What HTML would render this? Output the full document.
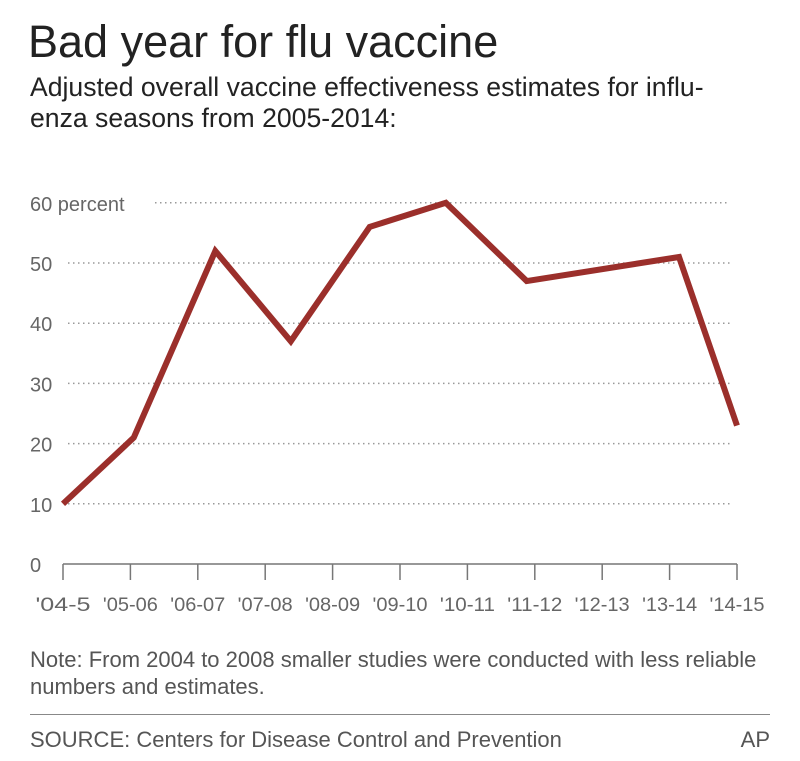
<!DOCTYPE html>
<html><head><meta charset="utf-8"><style>
body{margin:0;background:#fff;width:800px;height:761px;overflow:hidden;font-family:"Liberation Sans",sans-serif;}
.t{position:absolute;left:28px;top:16px;font-size:45px;color:#222;}
.s{position:absolute;left:30px;top:72px;font-size:26.6px;line-height:31px;color:#222;}
.n{position:absolute;left:30px;top:646px;font-size:22px;line-height:27px;color:#555;}
.hr{position:absolute;left:30px;top:714px;width:740px;height:1px;background:#888;}
.src{position:absolute;left:30px;top:727px;font-size:22px;color:#555;}
.ap{position:absolute;right:30px;top:727px;font-size:22px;color:#555;}
svg{position:absolute;left:0;top:0;}
</style></head><body>
<div class="t">Bad year for flu vaccine</div>
<div class="s">Adjusted overall vaccine effectiveness estimates for influ-<br>enza seasons from 2005-2014:</div>
<svg id="c" width="800" height="640"></svg>
<div class="n">Note: From 2004 to 2008 smaller studies were conducted with less reliable<br>numbers and estimates.</div>
<div class="hr"></div>
<div class="src">SOURCE: Centers for Disease Control and Prevention</div>
<div class="ap">AP</div>
<script>
const seasons=["'04-5","'05-06","'06-07","'07-08","'08-09","'09-10","'10-11","'11-12","'12-13","'13-14","'14-15"];
const yTicks=[0,10,20,30,40,50,60];
const pointSeason=[0,1.05,2.26,3.38,4.55,5.68,6.88,9.14,10];
const effectiveness=[10,21,52,37,56,60,47,51,23];
const svg=document.getElementById('c');const NS='http://www.w3.org/2000/svg';
const x=i=>63+i*67.4, y=v=>564-v*6.02;
function mk(t,a){const e=document.createElementNS(NS,t);for(const k in a)e.setAttribute(k,a[k]);svg.appendChild(e);return e;}
yTicks.forEach(v=>{
 if(v>0){const g=mk('line',{x1:v==60?155:68,x2:730,y1:y(v),y2:y(v),stroke:'#999','stroke-width':1.5,'stroke-dasharray':'1.5 3.5'});
 
 }
 const t=mk('text',{x:30,y:y(v)+8,'font-size':20,fill:'#666','font-family':'Liberation Sans,sans-serif'});
 t.textContent=v==60?'60 percent':v;
 
 
});
const ax=mk('line',{x1:x(0),x2:x(10),y1:y(0),y2:y(0),stroke:'#777','stroke-width':1.5});


seasons.forEach((s,i)=>{
 const tk=mk('line',{x1:x(i),x2:x(i),y1:y(0),y2:y(0)+16,stroke:'#777','stroke-width':1.5});
 
 
 const t=mk('text',{x:x(i),y:611,'font-size':19,fill:'#666','text-anchor':'middle','font-family':'Liberation Sans,sans-serif','textLength':s.length>4?55:40,'lengthAdjust':'spacingAndGlyphs'});
 t.textContent=s;
 
 
});
const pts=effectiveness.map((v,i)=>x(pointSeason[i])+','+y(v)).join(' ');
const l=mk('polyline',{points:pts,fill:'none',stroke:'#9b2f2b','stroke-width':6,'stroke-linejoin':'miter'});


</script>
</body></html>
